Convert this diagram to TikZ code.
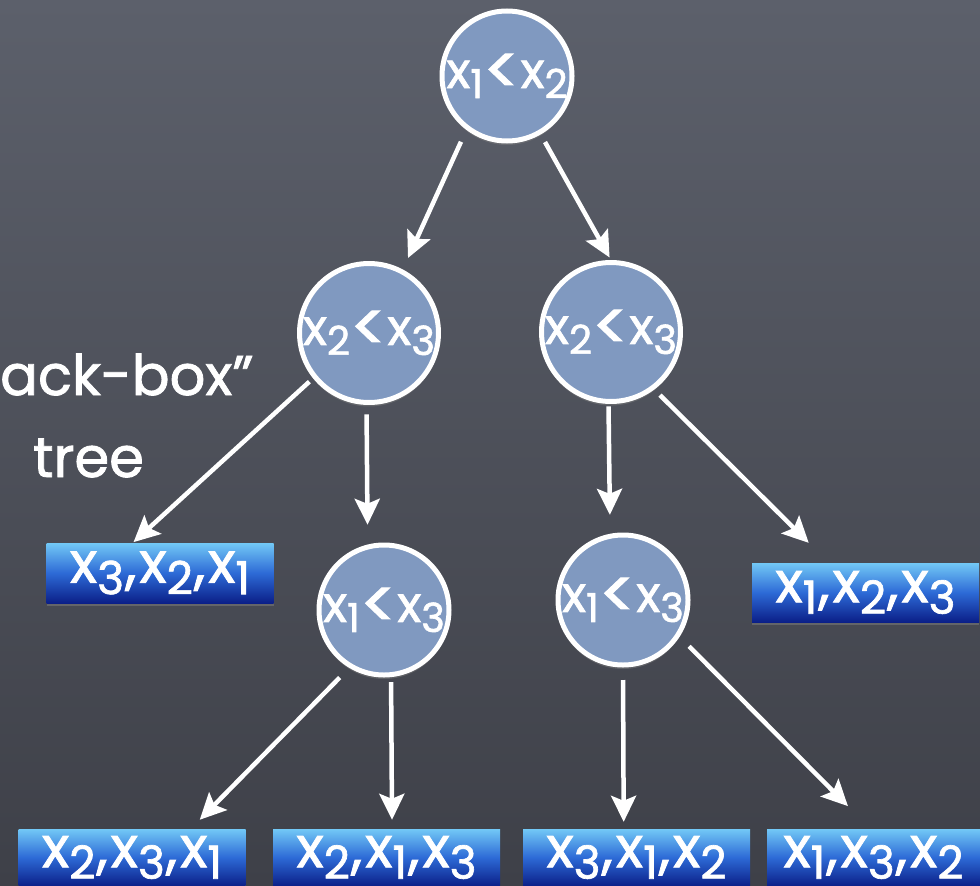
\documentclass[tikz,border=0pt]{standalone}
\usepackage{fontspec}
\setmainfont{Poppins}[FakeBold=1.5]
\usetikzlibrary{arrows.meta,shadows}

\definecolor{boardtop}{RGB}{92,96,107}
\definecolor{boardbot}{RGB}{62,64,72}
\definecolor{testfill}{RGB}{128,153,192}
\definecolor{leaftop}{RGB}{114,200,246}
\definecolor{leafmid}{RGB}{45,106,214}
\definecolor{leafbot}{RGB}{11,31,136}

% lowered, smaller index digit
\newcommand\low[1]{\raisebox{-0.2em}{\scalebox{0.8}{#1}}}
% larger "less than" sign sitting on the baseline
\newcommand\lessthan{\raisebox{-0.12em}{\scalebox{1.35}{<}}}
% comma with a little air around it
\newcommand\sep{\kern1pt,\kern3pt}

\begin{document}
\begin{tikzpicture}[x=1pt,y=-1pt,
  test/.style={circle, minimum size=130pt, inner sep=0pt, line width=5pt,
    draw=white, fill=testfill, text=white,
    font=\fontsize{50}{50}\selectfont,
    drop shadow={shadow xshift=0pt, shadow yshift=-4pt, opacity=0.45}},
  leaf/.style={rectangle, minimum width=227pt, minimum height=57pt, inner sep=0pt,
    top color=leaftop, bottom color=leafbot, middle color=leafmid, text=white,
    font=\fontsize{57}{57}\selectfont,
    drop shadow={shadow xshift=0pt, shadow yshift=-3pt, opacity=0.5}},
  arr/.style={draw=white, line width=4.5pt,
    -{Stealth[length=26pt, width=25pt, inset=5pt]}},
  caption/.style={text=white, font=\fontsize{56}{56}\selectfont, inner sep=0pt}]

\useasboundingbox (0,0) rectangle (980,886);
\clip (0,0) rectangle (980,886);
\shade[top color=boardtop, bottom color=boardbot] (0,0) rectangle (980,886);

% side caption
\node[caption, anchor=base west] (cap1) at (0,395) {ack-box”};
\node[caption, anchor=base west] (cap2) at (33,477) {tree};

% comparison nodes
\node[test] (top) at (507,76)  {x\low{1}\lessthan x\low{2}};
\node[test] (lm)  at (369,333) {x\low{2}\lessthan x\low{3}};
\node[test] (rm)  at (611,332) {x\low{2}\lessthan x\low{3}};
\node[test] (ll)  at (384,610) {x\low{1}\lessthan x\low{3}};
\node[test] (rl)  at (623,600) {x\low{1}\lessthan x\low{3}};

% leaves (orderings)
\node[leaf, minimum height=60pt] (bl) at (160,573)     {x\low{3}\sep x\low{2}\sep x\low{1}};
\node[leaf, minimum height=59pt] (br) at (865.5,592.5) {x\low{1}\sep x\low{2}\sep x\low{3}};
\node[leaf] (b1) at (132,857.5)   {x\low{2}\sep x\low{3}\sep x\low{1}};
\node[leaf] (b2) at (386.5,857.5) {x\low{2}\sep x\low{1}\sep x\low{3}};
\node[leaf] (b3) at (636.5,857.5) {x\low{3}\sep x\low{1}\sep x\low{2}};
\node[leaf, minimum width=213pt] (b4) at (873.5,857.5) {x\low{1}\sep x\low{3}\sep x\low{2}};

% branches
\draw[arr, shorten <=13pt,   shorten >=12.6pt] (top.233)  -- (lm.62);
\draw[arr, shorten <=8.7pt,  shorten >=2.9pt]  (top.300)  -- (rm.90);
\draw[arr, shorten <=5pt,    shorten >=1pt]    (lm.219.4) -- (bl.132);
\draw[arr, shorten <=9.5pt,  shorten >=19.7pt] (lm.268)   -- (ll.104.6);
\draw[arr, shorten <=2.5pt,  shorten >=18.9pt] (rm.268)   -- (rl.101.5);
\draw[arr, shorten <=8pt,    shorten >=28.3pt] (rm.307.5) -- (br.141.8);
\draw[arr, shorten <=13.6pt, shorten >=12.7pt] (ll.239.6) -- (b1.26.2);
\draw[arr, shorten <=5pt,    shorten >=9pt]    (ll.276.3) -- (b2.79.6);
\draw[arr, shorten <=12.5pt, shorten >=7pt]    (rl.270)   -- (b3.114.2);
\draw[arr, shorten <=13.5pt, shorten >=32pt]   (rl.327.1) -- (b4.96);
\end{tikzpicture}
\end{document}
